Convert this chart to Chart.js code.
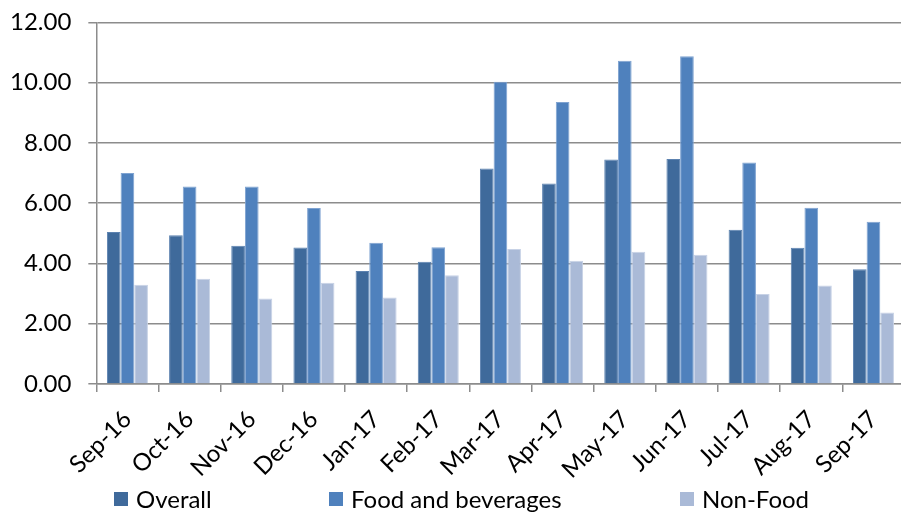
<!DOCTYPE html>
<html>
<head>
<meta charset="utf-8">
<script src="https://cdn.jsdelivr.net/npm/chart.js@4.4.1/dist/chart.umd.min.js"></script>
<style>
  html, body { margin: 0; padding: 0; overflow: hidden; background: #fff; }
  #wrap { position: relative; width: 912px; height: 512px; }
  #box { position: absolute; left: 0; top: -9px; width: 912px; height: 506px; }
  #legend { position: absolute; left: 0; top: 484px; width: 912px; height: 28px;
            font-family: Lato, "Open Sans", sans-serif; font-size: 24px; color: #000; }
  .item { position: absolute; top: 0; display: flex; align-items: center; white-space: nowrap; }
  .sw { width: 14px; height: 14px; margin-right: 8px; }
</style>
</head>
<body>
<div id="wrap">
  <div id="box"><canvas id="myChart"></canvas></div>
  <div id="legend"></div>
</div>

<script>
var months = ["Sep-16", "Oct-16", "Nov-16", "Dec-16", "Jan-17", "Feb-17", "Mar-17",
              "Apr-17", "May-17", "Jun-17", "Jul-17", "Aug-17", "Sep-17"];

var overall = [5.04, 4.94, 4.59, 4.53, 3.75, 4.06, 7.15, 6.65, 7.45, 7.47, 5.12, 4.52, 3.81];
var foodBev = [7.00, 6.55, 6.55, 5.84, 4.69, 4.54, 10.03, 9.36, 10.73, 10.88, 7.35, 5.85, 5.38];
var nonFood = [3.29, 3.49, 2.84, 3.36, 2.87, 3.61, 4.48, 4.09, 4.39, 4.29, 2.99, 3.27, 2.37];

var seriesNames = ["Overall", "Food and beverages", "Non-Food"];
var yTicks = [0, 2, 4, 6, 8, 10, 12];

var fills = ["#3F6A9B", "#4F81BD", "#AABAD7"];
var edges = ["#5C82B0", "#7FA3D1", "#C7D2E6"];
var legendLeft = [114, 329, 680];

var font = { family: "Lato, 'Open Sans', sans-serif", size: 24 };
// taller line box pushes the slanted month labels a little further below the axis
var xFont = { family: "Lato, 'Open Sans', sans-serif", size: 24, lineHeight: 1.8 };

var sets = [overall, foodBev, nonFood].map(function (vals, i) {
  return {
    label: seriesNames[i],
    data: vals,
    backgroundColor: fills[i],
    borderColor: edges[i],
    borderWidth: 1,
    categoryPercentage: 0.66,
    barPercentage: 1.0
  };
});

new Chart("myChart", {
  type: "bar",
  data: { labels: months, datasets: sets },
  options: {
    responsive: true,
    maintainAspectRatio: false,
    animation: false,
    layout: { padding: { left: -7, top: 0, right: 0, bottom: 0 } },
    plugins: { legend: { display: false }, tooltip: { enabled: false } },
    scales: {
      x: {
        offset: true,
        grid: { offset: true, drawOnChartArea: false, drawTicks: true, tickLength: 8,
                color: "#8c8c8c", lineWidth: 1.5 },
        border: { color: "#8c8c8c", width: 1.5 },
        ticks: { color: "#000", font: xFont, maxRotation: 45, minRotation: 45, padding: 8,
                 autoSkip: false }
      },
      y: {
        min: 0,
        max: 12,
        afterBuildTicks: function (axis) {
          axis.ticks = yTicks.map(function (v) { return { value: v }; });
        },
        grid: { color: "#8c8c8c", lineWidth: 1.5, tickLength: 8 },
        border: { color: "#8c8c8c", width: 1.5 },
        ticks: {
          color: "#000",
          font: font,
          padding: 17,
          callback: function (v) { return Number(v).toFixed(2); }
        }
      }
    }
  }
});

// legend row under the axis labels
var lg = document.getElementById("legend");
seriesNames.forEach(function (name, i) {
  var it = document.createElement("div");
  it.className = "item";
  it.style.left = legendLeft[i] + "px";
  var sw = document.createElement("span");
  sw.className = "sw";
  sw.style.background = fills[i];
  var tx = document.createElement("span");
  tx.textContent = name;
  it.appendChild(sw);
  it.appendChild(tx);
  lg.appendChild(it);
});
</script>
</body>
</html>
